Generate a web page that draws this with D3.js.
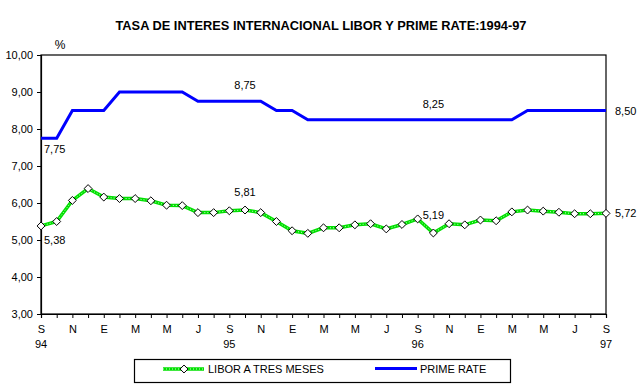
<!DOCTYPE html>
<html>
<head>
<meta charset="utf-8">
<script src="https://cdn.jsdelivr.net/npm/d3@7"></script>
<style>
  body { margin: 0; background: #fff; }
  svg { display: block; font-family: "Liberation Sans", Arial, sans-serif; }
</style>
</head>
<body>
<div id="chart"></div>
<script>
// monthly values, Sep 1994 .. Sep 1997
const libor = [5.38, 5.50, 6.07, 6.39, 6.16, 6.12, 6.12, 6.06, 5.94, 5.93, 5.74, 5.74,
               5.79, 5.81, 5.74, 5.50, 5.25, 5.18, 5.33, 5.33, 5.41, 5.44, 5.30, 5.42,
               5.57, 5.19, 5.44, 5.41, 5.54, 5.52, 5.76, 5.81, 5.78, 5.75, 5.71, 5.71, 5.72];
const prime = [7.75, 7.75, 8.50, 8.50, 8.50, 9.00, 9.00, 9.00, 9.00, 9.00, 8.75, 8.75,
               8.75, 8.75, 8.75, 8.50, 8.50, 8.25, 8.25, 8.25, 8.25, 8.25, 8.25, 8.25,
               8.25, 8.25, 8.25, 8.25, 8.25, 8.25, 8.25, 8.50, 8.50, 8.50, 8.50, 8.50, 8.50];
const monthLabels = ["S", "N", "E", "M", "M", "J", "S", "N", "E", "M", "M", "J", "S", "N", "E", "M", "M", "J", "S"];
const yearLabels = ["94", "95", "96", "97"];
const yTicks = [3, 4, 5, 6, 7, 8, 9, 10];
const labelIdx = [0, 13, 25, 36];

const width = 641, height = 386;
const plot = { left: 41, right: 606, top: 55, bottom: 314 };

const loc = d3.formatLocale({ decimal: ",", thousands: ".", grouping: [3], currency: ["", ""] });
const fmt = loc.format(".2f");

const svg = d3.select("#chart").append("svg")
    .attr("width", width)
    .attr("height", height);

const x = d3.scaleLinear().domain([0, libor.length - 1]).range([plot.left, plot.right]);
const y = d3.scaleLinear().domain([3, 10]).range([plot.bottom, plot.top]);

svg.append("text")
    .attr("x", 321)
    .attr("y", 30)
    .attr("text-anchor", "middle")
    .attr("font-size", 13)
    .attr("font-weight", "bold")
    .attr("textLength", 411)
    .attr("lengthAdjust", "spacingAndGlyphs")
    .text("TASA DE INTERES INTERNACIONAL LIBOR Y PRIME RATE:1994-97");

svg.append("text")
    .attr("x", 60)
    .attr("y", 49)
    .attr("text-anchor", "middle")
    .attr("font-size", 12)
    .text("%");

// frame
svg.append("rect")
    .attr("x", plot.left)
    .attr("y", plot.top)
    .attr("width", plot.right - plot.left)
    .attr("height", plot.bottom - plot.top)
    .attr("fill", "none")
    .attr("stroke", "#000")
    .attr("stroke-width", 1.2);

const yAxis = svg.append("g")
    .attr("transform", `translate(${plot.left},0)`)
    .call(d3.axisLeft(y).tickValues(yTicks).tickSize(4).tickPadding(4).tickFormat(fmt));

const xAxis = svg.append("g")
    .attr("transform", `translate(0,${plot.bottom})`)
    .call(d3.axisBottom(x).tickValues(d3.range(libor.length)).tickSize(4).tickPadding(7)
        .tickFormat(i => i % 2 === 0 ? monthLabels[i / 2] : ""));

[yAxis, xAxis].forEach(g => {
    g.select(".domain").attr("stroke", "#000").attr("stroke-width", 1.2);
    g.selectAll(".tick line").attr("stroke", "#000");
    g.selectAll("text").attr("font-size", 11).attr("fill", "#000")
        .attr("font-family", "Liberation Sans, Arial, sans-serif");
});

svg.append("g").selectAll("text")
    .data(yearLabels)
    .enter()
    .append("text")
    .attr("x", (d, i) => x(i * 12))
    .attr("y", 348)
    .attr("text-anchor", "middle")
    .attr("font-size", 11)
    .text(d => d);

const line = d3.line()
    .x((d, i) => x(i))
    .y(d => y(d));

// prime rate
svg.append("path")
    .attr("d", line(prime))
    .attr("fill", "none")
    .attr("stroke", "#0000ff")
    .attr("stroke-width", 3);

// libor
svg.append("path")
    .attr("d", line(libor))
    .attr("fill", "none")
    .attr("stroke", "#00e000")
    .attr("stroke-width", 3.5);

svg.append("path")
    .attr("d", line(libor))
    .attr("fill", "none")
    .attr("stroke", "#c8ffc8")
    .attr("stroke-width", 1)
    .attr("stroke-dasharray", "1 2");

svg.append("g").selectAll("path")
    .data(libor)
    .enter()
    .append("path")
    .attr("d", d3.symbol(d3.symbolDiamond2, 40))
    .attr("transform", (d, i) => `translate(${x(i)},${y(d)})`)
    .attr("fill", "#fff")
    .attr("stroke", "#000")
    .attr("stroke-width", 1);

// data labels
function labelPos(i, v, k) {
    if (i === 0) return [x(i) + 3, y(v) + (k === 0 ? 18 : 15), "start"];
    if (i === libor.length - 1) return [x(i) + 9, y(v) + 4, "start"];
    return [x(i), y(v) - (k === 0 ? 14 : 12), "middle"];
}

[libor, prime].forEach((series, k) => {
    svg.append("g").selectAll("text")
        .data(labelIdx)
        .enter()
        .append("text")
        .each(function (i) {
            const p = labelPos(i, series[i], k);
            d3.select(this)
                .attr("x", p[0])
                .attr("y", p[1])
                .attr("text-anchor", p[2]);
        })
        .attr("font-size", 11)
        .text(i => fmt(series[i]));
});

// legend
const legend = svg.append("g");
legend.append("rect")
    .attr("x", 134.5)
    .attr("y", 359.5)
    .attr("width", 376)
    .attr("height", 23)
    .attr("fill", "#fff")
    .attr("stroke", "#000")
    .attr("stroke-width", 1.2);

legend.append("line")
    .attr("x1", 163).attr("x2", 204).attr("y1", 369).attr("y2", 369)
    .attr("stroke", "#00e000").attr("stroke-width", 3.5);
legend.append("line")
    .attr("x1", 163).attr("x2", 204).attr("y1", 369).attr("y2", 369)
    .attr("stroke", "#c8ffc8").attr("stroke-width", 1).attr("stroke-dasharray", "1 2");
legend.append("path")
    .attr("d", d3.symbol(d3.symbolDiamond2, 40))
    .attr("transform", "translate(184,369)")
    .attr("fill", "#fff")
    .attr("stroke", "#000");
legend.append("text")
    .attr("x", 208).attr("y", 373)
    .attr("font-size", 11)
    .text("LIBOR A TRES MESES");

legend.append("line")
    .attr("x1", 375).attr("x2", 417).attr("y1", 368.5).attr("y2", 368.5)
    .attr("stroke", "#0000ff").attr("stroke-width", 3);
legend.append("text")
    .attr("x", 420).attr("y", 373)
    .attr("font-size", 11)
    .text("PRIME RATE");
</script>
</body>
</html>
